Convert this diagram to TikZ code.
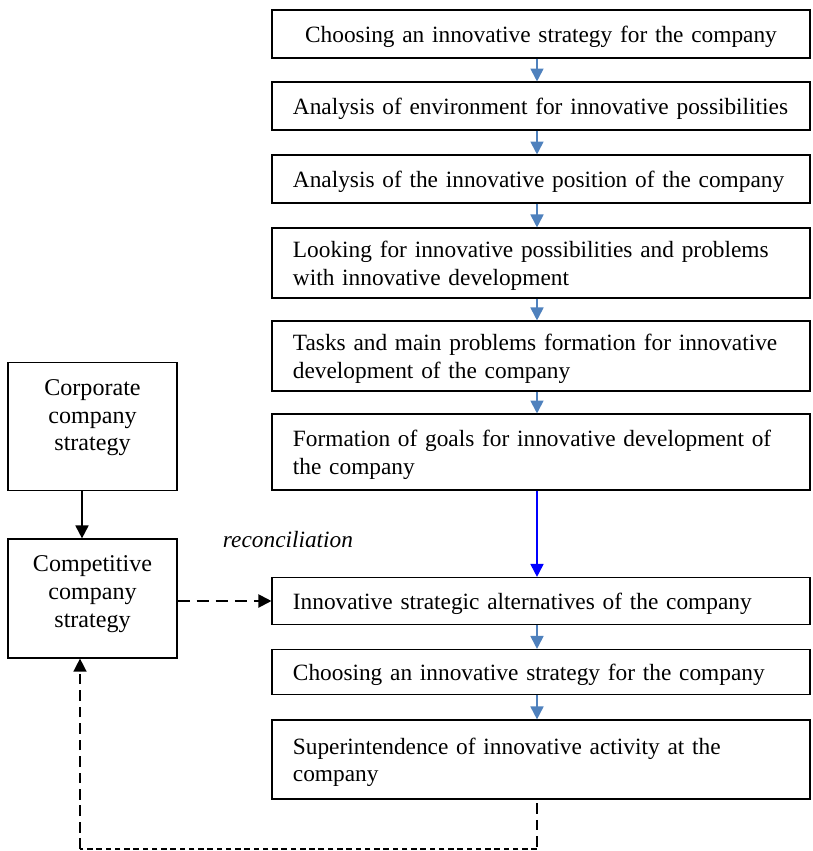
\documentclass[tikz,border=0pt]{standalone}
\usepackage{fontspec}
\setmainfont{Liberation Serif}
\usetikzlibrary{arrows.meta}

\definecolor{flowblue}{RGB}{79,129,189}
\newcommand{\tops}{\rule{0pt}{13pt}}
\newcommand{\bots}[1][4pt]{\rule[-#1]{0pt}{0pt}}
\tikzset{
  stage/.style={draw, line width=0.6pt, inner sep=0pt, inner xsep=11.3pt,
    minimum width=290.5pt, text width=267.9pt, align=left, font=\fontsize{12.6}{14.8}\selectfont},
  side/.style={draw, line width=0.6pt, inner sep=0pt, minimum width=91.3pt,
    text width=85pt, align=center, font=\fontsize{13}{15}\selectfont},
  flow/.style={-{Triangle[width=7pt,length=7pt]}, line width=1pt, color=flowblue},
  tip/.style={-{Triangle[width=7pt,length=7pt]}},
}

\begin{document}
\begin{tikzpicture}[x=0.54pt,y=-0.54pt]
    \useasboundingbox (0,0) rectangle (812,851);

    \node[stage, align=center, minimum height=25.9pt] at (541,34)    (choose1) {\tops Choosing an innovative strategy for the company\bots};
    \node[stage, minimum height=25.9pt] at (541,106)   (env)   {\tops Analysis of environment for innovative possibilities\bots};
    \node[stage, minimum height=25.9pt] at (541,179)   (pos)   {\tops Analysis of the innovative position of the company\bots};
    \node[stage, minimum height=37.8pt] at (541,263)   (look)  {\tops Looking for innovative possibilities and problems\\with innovative development\bots};
    \node[stage, minimum height=37.8pt] at (541,356)   (tasks) {\tops Tasks and main problems formation for innovative\\development of the company\bots};
    \node[stage, minimum height=41pt]   at (541,452)   (goals) {\tops Formation of goals for innovative development of\\the company\bots};
    \node[stage, minimum height=25.4pt] at (541,601)   (alt)   {\tops Innovative strategic alternatives of the company\bots};
    \node[stage, minimum height=24.3pt] at (541,672)   (choose2) {\tops Choosing an innovative strategy for the company\bots};
    \node[stage, minimum height=42.7pt] at (541,759.5) (super) {\tops Superintendence of innovative activity at the\\company\bots};

    \node[side, minimum height=69.1pt] at (92.5,426.5) (corp) {\tops Corporate\\company\\strategy\bots[16.6pt]};
    \node[side, minimum height=64.3pt] at (92.5,598.5) (comp) {\tops Competitive\\company\\strategy\bots[12.2pt]};

    \node[font=\fontsize{12.6}{14.8}\selectfont\itshape] at (288,540) (rec) {reconciliation};

    \coordinate (axis) at (537,0);
    \coordinate (laxis) at (82,0);
    \coordinate (fb1) at (537,849);
    \coordinate (fb2) at (80,849);

    \draw[flow] (axis |- choose1.south) -- (axis |- env.north);
    \draw[flow] (axis |- env.south) -- (axis |- pos.north);
    \draw[flow] (axis |- pos.south) -- (axis |- look.north);
    \draw[flow] (axis |- look.south) -- (axis |- tasks.north);
    \draw[flow] (axis |- tasks.south) -- (axis |- goals.north);
    \draw[flow, color=blue] (axis |- goals.south) -- (axis |- alt.north);
    \draw[flow] (axis |- alt.south) -- (axis |- choose2.north);
    \draw[flow] (axis |- choose2.south) -- (axis |- super.north);

    \draw[tip, line width=1pt] (laxis |- corp.south) -- (laxis |- comp.north);
    \draw[tip, line width=1.1pt, dash pattern=on 6.5pt off 3.8pt] (comp.east |- alt.west) -- (alt.west);
    \draw[line width=0.8pt, dash pattern=on 5.7pt off 3.2pt, shorten <=2pt] (axis |- super.south) -- (fb1);
    \draw[line width=0.8pt, dash pattern=on 3pt off 2pt] (fb1) -- (fb2);
    \draw[tip, line width=0.8pt, dash pattern=on 5.7pt off 3.2pt] (fb2) -- (fb2 |- comp.south);
\end{tikzpicture}
\end{document}
